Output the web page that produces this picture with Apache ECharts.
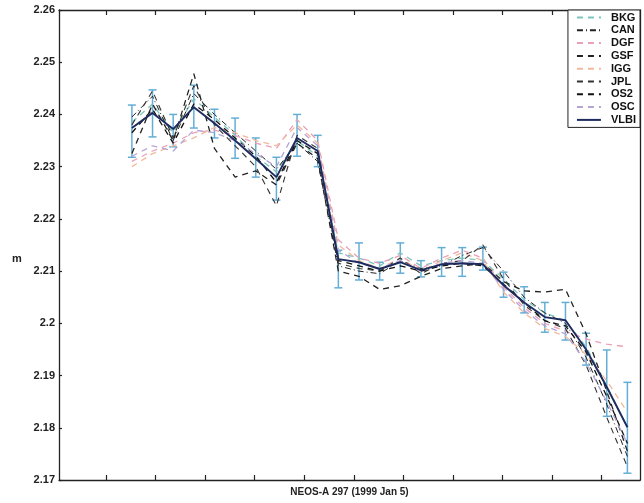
<!DOCTYPE html>
<html><head><meta charset="utf-8">
<script src="https://cdn.jsdelivr.net/npm/echarts@6/dist/echarts.min.js"></script>
<style>html,body{margin:0;padding:0;background:#fff}#c{width:644px;height:503px}</style>
</head><body><div id="c"></div>
<script>
// epochs in hours
const hours = [1.25,2.25,3.25,4.25,5.25,6.25,7.25,8.25,9.25,10.25,11.25,12.25,13.25,14.25,15.25,16.25,17.25,18.25,19.25,20.25,21.25,22.25,23.25,24.25,25.25];
const tickHours = [0,2.4,4.8,7.2,9.6,12,14.4,16.8,19.2,21.6,24];
const VLBI = [2.2374,2.2403,2.2372,2.2414,2.2383,2.2350,2.2315,2.2280,2.2355,2.2330,2.2123,2.2117,2.2104,2.2117,2.2102,2.2113,2.2115,2.2113,2.2073,2.2040,2.2012,2.2006,2.1950,2.1878,2.1801];
const BKG = [2.2385,2.2420,2.2365,2.2430,2.2395,2.2360,2.2320,2.2290,2.2350,2.2320,2.2135,2.2125,2.2110,2.2135,2.2110,2.2120,2.2125,2.2120,2.2085,2.2045,2.2020,2.2005,2.1955,2.1880,2.1800];
const CAN = [2.2395,2.2435,2.2350,2.2440,2.2400,2.2365,2.2330,2.2295,2.2345,2.2310,2.2110,2.2100,2.2095,2.2120,2.2105,2.2110,2.2130,2.2145,2.2100,2.2050,2.2020,2.2000,2.1935,2.1845,2.1745];
const DGF = [2.2310,2.2330,2.2345,2.2365,2.2370,2.2360,2.2345,2.2335,2.2390,2.2350,2.2160,2.2125,2.2115,2.2130,2.2105,2.2125,2.2140,2.2125,2.2070,2.2030,2.2000,2.1985,2.1970,2.1960,2.1955];
const GSF = [2.2325,2.2420,2.2350,2.2478,2.2335,2.2280,2.2292,2.2265,2.2345,2.2315,2.2100,2.2090,2.2065,2.2072,2.2090,2.2105,2.2110,2.2115,2.2080,2.2062,2.2060,2.2065,2.1980,2.1870,2.1755];
const IGG = [2.2300,2.2325,2.2340,2.2355,2.2375,2.2365,2.2350,2.2340,2.2380,2.2345,2.2150,2.2120,2.2105,2.2125,2.2100,2.2120,2.2135,2.2120,2.2060,2.2020,2.1990,2.1975,2.1940,2.1890,2.1830];
const JPL = [2.2380,2.2445,2.2355,2.2455,2.2380,2.2340,2.2300,2.2225,2.2360,2.2335,2.2115,2.2105,2.2100,2.2125,2.2095,2.2115,2.2120,2.2150,2.2085,2.2035,2.2005,2.1990,2.1920,2.1820,2.1725];
const OS2 = [2.2365,2.2410,2.2345,2.2420,2.2390,2.2355,2.2320,2.2270,2.2350,2.2325,2.2120,2.2110,2.2100,2.2110,2.2100,2.2110,2.2115,2.2110,2.2075,2.2040,2.2005,2.1995,2.1945,2.1860,2.1770];
const OSC = [2.2320,2.2340,2.2330,2.2370,2.2365,2.2350,2.2325,2.2300,2.2375,2.2340,2.2140,2.2115,2.2105,2.2120,2.2100,2.2115,2.2120,2.2115,2.2065,2.2025,2.1995,2.1980,2.1925,2.1850,2.1770];
const errHigh = [2.2418,2.2447,2.2400,2.2456,2.2410,2.2393,2.2355,2.2318,2.2400,2.2360,2.2140,2.2154,2.2117,2.2154,2.2120,2.2145,2.2145,2.2146,2.2098,2.2070,2.2040,2.2040,2.1981,2.1949,2.1887];
const errLow = [2.2318,2.2357,2.2338,2.2374,2.2355,2.2316,2.2280,2.2236,2.2320,2.2300,2.2068,2.2083,2.2083,2.2096,2.2089,2.2090,2.2090,2.2102,2.2050,2.2020,2.1983,2.1968,2.1920,2.1822,2.1713];

const FONT = "'Liberation Sans', Arial, sans-serif";
const pair = arr => hours.map((h,i)=>[h, arr[i]]);
function dashed(name, arr, color, type, width){
  return {name, type:'line', data: pair(arr), symbol:'none', showSymbol:false, smooth:false,
    lineStyle:{color, type, width: width||1.2}, itemStyle:{color}, z:3};
}
const chart = echarts.init(document.getElementById('c'), null, {renderer:'canvas'});
chart.setOption({
  animation:false,
  backgroundColor:'#fff',
  grid:{left:59, right:4, top:10, bottom:23},
  xAxis:[{
    type:'value', min:-2.28, max:25.86, position:'bottom',
    axisLine:{show:true, onZero:false, lineStyle:{color:'#222', width:1.3}},
    axisTick:{show:true, inside:true, length:5, customValues: tickHours, lineStyle:{color:'#222', width:1.2}},
    axisLabel:{show:false}, splitLine:{show:false},
    name:'NEOS-A 297 (1999 Jan 5)', nameLocation:'middle', nameGap:7,
    nameTextStyle:{fontFamily:FONT, fontWeight:'bold', fontSize:10, color:'#222'}
  },{
    type:'value', min:-2.28, max:25.86, position:'top',
    axisLine:{show:true, onZero:false, lineStyle:{color:'#222', width:1.3}},
    axisTick:{show:true, inside:true, length:5, customValues: tickHours, lineStyle:{color:'#222', width:1.2}},
    axisLabel:{show:false}, splitLine:{show:false}
  }],
  yAxis:[{
    type:'value', min:2.17, max:2.26, interval:0.01, position:'left',
    axisLine:{show:true, onZero:false, lineStyle:{color:'#222', width:1.3}},
    axisTick:{show:true, inside:true, length:3, lineStyle:{color:'#222', width:1.2}},
    axisLabel:{fontFamily:FONT, fontWeight:'bold', fontSize:11, color:'#222', margin:4},
    splitLine:{show:false}
  },{
    type:'value', min:2.17, max:2.26, position:'right',
    axisLine:{show:true, onZero:false, lineStyle:{color:'#222', width:1.3}},
    axisTick:{show:false}, axisLabel:{show:false}, splitLine:{show:false}
  }],
  legend:{
    orient:'vertical', right:4, top:10, width:70,
    data:['BKG','CAN','DGF','GSF','IGG','JPL','OS2','OSC','VLBI'],
    itemWidth:24, itemHeight:8, itemGap:1.8,
    padding:[2,4,2,8],
    itemStyle:{opacity:0},
    backgroundColor:'#fff', borderColor:'#222', borderWidth:1, borderRadius:0,
    textStyle:{fontFamily:FONT, fontWeight:'bold', fontSize:11, lineHeight:11, color:'#111', padding:[0,0,0,5]}
  },
  graphic:[{type:'text', left:12, top:253, style:{text:'m', font:"bold 11px "+FONT, fill:'#222'}}],
  series:[
    {name:'err', type:'custom', z:2, data: hours.map((h,i)=>[h, errLow[i], errHigh[i]]),
     encode:{x:0, y:[1,2]},
     renderItem:function(params, api){
       const x = api.value(0);
       const pHi = api.coord([x, api.value(2)]);
       const pLo = api.coord([x, api.value(1)]);
       const w = 4;
       const st = {stroke:'#64aed6', lineWidth:1.5};
       return {type:'group', children:[
         {type:'line', shape:{x1:pHi[0], y1:pHi[1], x2:pLo[0], y2:pLo[1]}, style:st},
         {type:'line', shape:{x1:pHi[0]-w, y1:pHi[1], x2:pHi[0]+w, y2:pHi[1]}, style:st},
         {type:'line', shape:{x1:pLo[0]-w, y1:pLo[1], x2:pLo[0]+w, y2:pLo[1]}, style:st}
       ]};
     }},
    dashed('BKG', BKG, '#7cc4bc', [6,5], 1.3),
    dashed('CAN', CAN, '#222', [6,3,1,3], 1.0),
    dashed('DGF', DGF, '#e8a0b6', [6,5], 1.3),
    dashed('GSF', GSF, '#222', [6,5], 1.3),
    dashed('IGG', IGG, '#f2b89c', [6,5], 1.3),
    dashed('JPL', JPL, '#333', [6,5], 1.1),
    dashed('OS2', OS2, '#111', [6,5], 1.3),
    dashed('OSC', OSC, '#b4a4d4', [6,5], 1.3),
    {name:'VLBI', type:'line', data: pair(VLBI), symbol:'none', showSymbol:false, z:5,
     lineStyle:{color:'#1e2b5e', width:1.9}, itemStyle:{color:'#1e2b5e'}}
  ]
});
</script></body></html>
